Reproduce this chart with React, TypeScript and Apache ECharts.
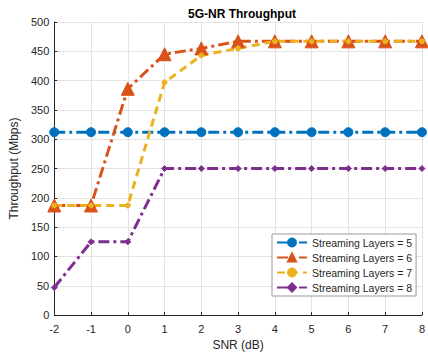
import React, { useEffect, useRef } from "react";
import * as echarts from "echarts";

// SNR sweep (dB)
const snr = [-2, -1, 0, 1, 2, 3, 4, 5, 6, 7, 8];

// Throughput (Mbps) for each number of streaming layers
const layers5 = [312, 312, 312, 312, 312, 312, 312, 312, 312, 312, 312];
const layers6 = [187, 187, 386, 445, 455, 467, 467, 467, 467, 467, 467];
const layers7 = [187, 187, 187, 397, 443, 455, 467, 467, 467, 467, 467];
const layers8 = [47, 125, 125, 250, 250, 250, 250, 250, 250, 250, 250];

const seriesNames = [
  "Streaming Layers = 5",
  "Streaming Layers = 6",
  "Streaming Layers = 7",
  "Streaming Layers = 8",
];

const FONT = "Arial, 'Liberation Sans', Helvetica, sans-serif";
const TEXT = "#262626";

const pair = (vals: number[]) => snr.map((x, i) => [x, vals[i]]);

export default function App() {
  const ref = useRef<HTMLDivElement>(null);

  useEffect(() => {
    if (!ref.current) return;
    const chart = echarts.init(ref.current, undefined, { renderer: "svg" });

    const dashDot = [11, 4, 3, 4];
    const dashed = [8, 5];

    const mk = (
      name: string,
      vals: number[],
      color: string,
      symbol: string,
      symbolSize: number,
      dash: number[]
    ) => ({
      name,
      type: "line",
      data: pair(vals),
      symbol,
      symbolSize,
      showAllSymbol: true,
      itemStyle: { color, borderColor: color, borderWidth: 1 },
      lineStyle: { color, width: 3, type: dash },
      z: 3,
    });

    chart.setOption({
      animation: false,
      backgroundColor: "#ffffff",
      textStyle: { fontFamily: FONT },
      title: {
        text: "5G-NR Throughput",
        left: 237,
        textAlign: "center",
        top: 3,
        textStyle: { fontSize: 12, fontWeight: "bold", color: "#000", fontFamily: FONT },
      },
      grid: { left: 49, right: 3, top: 22, bottom: 38, containLabel: false },
      xAxis: {
        type: "value",
        min: -2,
        max: 8,
        interval: 1,
        name: "SNR (dB)",
        nameLocation: "middle",
        nameGap: 21,
        nameTextStyle: { fontSize: 12, color: TEXT, fontFamily: FONT },
        axisLine: { onZero: false, lineStyle: { color: "#262626", width: 1 } },
        axisTick: { show: true, inside: true, length: 3, lineStyle: { color: "#262626" } },
        axisLabel: { fontSize: 11, color: TEXT, margin: 8, fontFamily: FONT },
        splitLine: { show: true, lineStyle: { color: "#e3e3e3", width: 1 } },
      },
      yAxis: {
        type: "value",
        min: 0,
        max: 500,
        interval: 50,
        name: "Throughput (Mbps)",
        nameLocation: "middle",
        nameGap: 31,
        nameTextStyle: { fontSize: 12, color: TEXT, fontFamily: FONT },
        axisLine: { show: true, onZero: false, lineStyle: { color: "#262626", width: 1 } },
        axisTick: { show: true, inside: true, length: 3, lineStyle: { color: "#262626" } },
        axisLabel: { fontSize: 11, color: TEXT, margin: 5, fontFamily: FONT },
        splitLine: { show: true, lineStyle: { color: "#e3e3e3", width: 1 } },
      },
      legend: {
        data: seriesNames,
        orient: "vertical",
        left: 272,
        top: 234,
        itemWidth: 30,
        itemHeight: 10,
        itemGap: 4,
        padding: [3, 4, 3, 4],
        backgroundColor: "#ffffff",
        borderColor: "#9a9a9a",
        borderWidth: 1,
        borderRadius: 0,
        textStyle: { fontSize: 10.5, color: TEXT, fontFamily: FONT },
      },
      series: [
        mk(seriesNames[0], layers5, "#0072BD", "circle", 9, dashDot),
        mk(seriesNames[1], layers6, "#D95319", "triangle", 13, dashDot),
        mk(seriesNames[2], layers7, "#EDB120", "circle", 5, dashed),
        mk(seriesNames[3], layers8, "#7E2F8E", "diamond", 6, dashDot),
      ],
    });

    return () => chart.dispose();
  }, []);

  return <div ref={ref} style={{ width: 428, height: 356, position: "absolute", left: 0, top: 0 }} />;
}
